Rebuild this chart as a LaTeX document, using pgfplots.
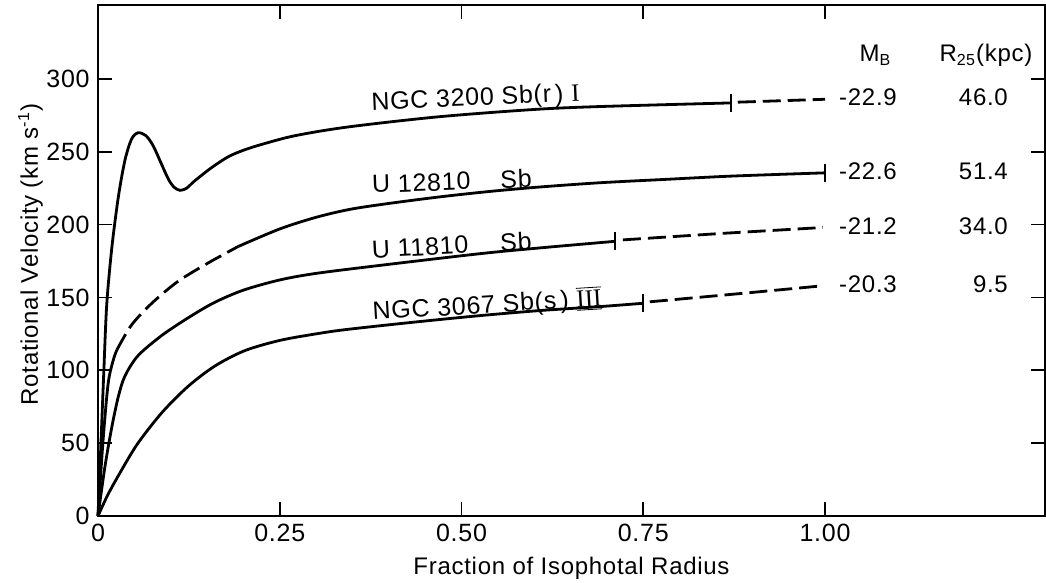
\documentclass[border=0pt]{standalone}
\usepackage{fontspec}
\setmainfont{Liberation Sans}[LetterSpace=3]
\newfontfamily\romanfont{Liberation Serif}
\usepackage{pgfplots}
\pgfplotsset{compat=1.18}

\begin{document}
\fontsize{12}{14}\selectfont
\begin{tikzpicture}
\begin{axis}[
  scale only axis, width=473.5pt, height=255.5pt,
  at={(0,0)}, anchor=south west,
  xmin=0, xmax=1.3026, ymin=0, ymax=350.7,
  clip=false,
  xtick={0,0.25,0.5,0.75,1}, xticklabels={0,0.25,0.50,0.75,1.00},
  ytick={0,50,100,150,200,250,300},
  tick align=inside, major tick length=7pt,
  tick style={line width=0.9pt, black},
  axis line style={line width=1pt},
  /pgf/number format/assume math mode=true,
  tick label style={font=\fontsize{12.5}{14}\selectfont},
  xlabel={Fraction of Isophotal Radius},
  ylabel={Rotational Velocity (km s\textsuperscript{-1})},
  x label style={at={(axis description cs:0.5,0)}, anchor=base, yshift=-29.5pt},
  y label style={at={(axis description cs:-0.0634,0.512)}, anchor=base, rotate=0},
]
% NGC 3200
\addplot[line width=1.4pt, smooth] coordinates {
(0,0) (0.004,49) (0.008,99) (0.012,145) (0.019,184) (0.028,219) (0.037,244)
(0.046,258.5) (0.055,263) (0.066,261) (0.076,254) (0.086,243) (0.097,231)
(0.105,225.5) (0.113,223.5) (0.122,225) (0.133,230) (0.156,239) (0.179,246.5)
(0.20,251) (0.225,255) (0.271,261) (0.344,267) (0.469,274) (0.600,279)
(0.690,281) (0.871,283.5)};
\addplot[line width=1.4pt, dash pattern=on 9pt off 3.5pt] coordinates {
(0.880,284) (1.0,286)};
% U 12810
\addplot[line width=1.4pt, smooth] coordinates {
(0,0) (0.007,52) (0.014,91) (0.021,107) (0.026,114)};
\addplot[line width=1.4pt, smooth, dash pattern=on 9pt off 3.5pt] coordinates {
(0.026,114) (0.046,131) (0.074,146) (0.11,161) (0.151,173.5) (0.193,185)};
\addplot[line width=1.4pt, smooth] coordinates {
(0.193,185) (0.25,197) (0.30,205) (0.347,210.5) (0.40,214.5) (0.47,219)
(0.54,222.8) (0.608,225.8) (0.69,228.7) (0.78,231) (0.873,233.3) (1.0,235.5)};
% U 11810
\addplot[line width=1.4pt, smooth] coordinates {
(0,0) (0.0096,34) (0.019,61) (0.028,82) (0.037,96) (0.055,110) (0.088,124)
(0.124,136) (0.16,146.5) (0.20,155) (0.25,162) (0.30,166.5) (0.388,172)
(0.525,180) (0.608,184) (0.711,188.5)};
\addplot[line width=1.4pt, dash pattern=on 9pt off 3.5pt] coordinates {
(0.722,189.5) (0.86,194) (0.997,198)};
% NGC 3067
\addplot[line width=1.4pt, smooth] coordinates {
(0,0) (0.014,15) (0.033,32) (0.055,50) (0.088,71) (0.124,89) (0.161,103)
(0.202,113.5) (0.25,120.5) (0.30,125) (0.342,128) (0.434,133) (0.525,137.5)
(0.608,141) (0.69,143.7) (0.75,146)};
\addplot[line width=1.4pt, dash pattern=on 9pt off 3.5pt] coordinates {
(0.759,147) (0.88,152.5) (0.997,158)};
% end-of-data bars
\addplot[only marks, mark=|, mark size=4.5pt, mark options={line width=1pt}] coordinates {
(0.871,283.5) (1.0,235.5) (0.711,188.5) (0.75,146)};
% curve labels
\node[anchor=base west, inner sep=0pt, rotate=2.5, font=\fontsize{12.5}{14}\selectfont] at (axis cs:0.376,278.6)
  {NGC 3200 Sb(r\,) {\romanfont I}};
\node[anchor=base west, inner sep=0pt, rotate=2, font=\fontsize{12.5}{14}\selectfont] at (axis cs:0.377,221.7)
  {U 12810\hspace{15pt}Sb};
\node[anchor=base west, inner sep=0pt, rotate=3, font=\fontsize{12.5}{14}\selectfont] at (axis cs:0.377,177)
  {U 11810\hspace{16pt}Sb};
\node[anchor=base west, inner sep=0pt, rotate=3.5, font=\fontsize{12.5}{14}\selectfont] at (axis cs:0.378,134.5)
  {NGC 3067 Sb(s\,) $\underline{\overline{\hbox{\romanfont III}}}$};
% right-hand columns
\node[anchor=base west, inner sep=0pt] at (axis cs:1.047,311.6) {M\textsubscript{B}};
\node[anchor=base west, inner sep=0pt] at (axis cs:1.157,311.6) {R\textsubscript{25}(kpc)};
\node[anchor=base west, inner sep=0pt] at (axis cs:1.019,281.4) {-22.9};
\node[anchor=base west, inner sep=0pt] at (axis cs:1.019,230.6) {-22.6};
\node[anchor=base west, inner sep=0pt] at (axis cs:1.019,193) {-21.2};
\node[anchor=base west, inner sep=0pt] at (axis cs:1.019,153.7) {-20.3};
\node[anchor=base east, inner sep=0pt] at (axis cs:1.252,281.4) {46.0};
\node[anchor=base east, inner sep=0pt] at (axis cs:1.252,230.6) {51.4};
\node[anchor=base east, inner sep=0pt] at (axis cs:1.252,193) {34.0};
\node[anchor=base east, inner sep=0pt] at (axis cs:1.252,153.7) {9.5};
\end{axis}
\pgfresetboundingbox
\path[use as bounding box] (-49pt,-33.5pt) rectangle (474pt,258pt);
\end{tikzpicture}
\end{document}
